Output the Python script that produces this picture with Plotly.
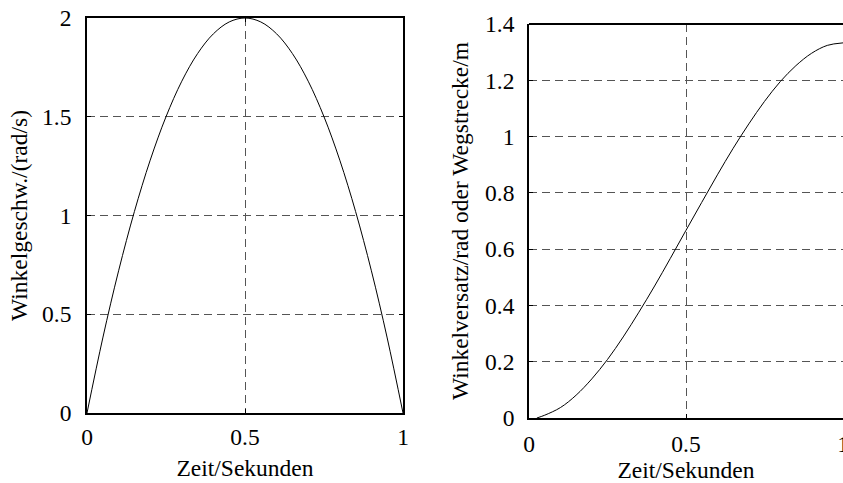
import plotly.graph_objects as go

# Zeitachse und Messwerte (Winkelgeschwindigkeit)
t_speed = [0.00, 0.05, 0.10, 0.15, 0.20, 0.25, 0.30, 0.35, 0.40, 0.45, 0.50,
           0.55, 0.60, 0.65, 0.70, 0.75, 0.80, 0.85, 0.90, 0.95, 1.00]
omega = [0.00, 0.38, 0.72, 1.02, 1.28, 1.50, 1.68, 1.82, 1.92, 1.98, 2.00,
         1.98, 1.92, 1.82, 1.68, 1.50, 1.28, 1.02, 0.72, 0.38, 0.00]

# Zeitachse und Winkelversatz / Wegstrecke
t_angle = [0.025, 0.05, 0.10, 0.15, 0.20, 0.25, 0.30, 0.35, 0.40, 0.45, 0.50,
           0.55, 0.60, 0.65, 0.70, 0.75, 0.80, 0.85, 0.90, 0.95, 1.00]
phi = [0.000, 0.010, 0.037, 0.081, 0.139, 0.208, 0.288, 0.376, 0.469, 0.567, 0.667,
       0.766, 0.864, 0.958, 1.045, 1.125, 1.195, 1.252, 1.296, 1.324, 1.333]

x_ticks = [0, 0.5, 1]
x_labels = ["0", "0.5", "1"]
y1_ticks = [0, 0.5, 1, 1.5, 2]
y1_labels = ["0", "0.5", "1", "1.5", "2"]
y2_ticks = [0, 0.2, 0.4, 0.6, 0.8, 1.0, 1.2, 1.4]
y2_labels = ["0", "0.2", "0.4", "0.6", "0.8", "1", "1.2", "1.4"]

FONT = "Liberation Serif"
FS = 23.5
W, H = 843, 483

fig = go.Figure()
fig.add_trace(go.Scatter(x=t_speed, y=omega, mode="lines", line_shape="spline",
                         line=dict(color="black", width=1), xaxis="x", yaxis="y",
                         showlegend=False))
fig.add_trace(go.Scatter(x=t_angle, y=phi, mode="lines", line_shape="spline",
                         line=dict(color="black", width=1), xaxis="x2", yaxis="y2",
                         showlegend=False))

common = dict(showgrid=True, gridcolor="#555555", gridwidth=1.2, griddash="8px,5px",
              zeroline=False, ticks="inside", ticklen=4, tickwidth=1, tickcolor="black",
              showline=True, linecolor="black", linewidth=1.8, automargin=False,
              ticklabeloverflow="allow",
              tickfont=dict(family=FONT, size=FS, color="black"))

title_font = dict(family=FONT, size=FS, color="black")


def px_x(a, b):
    return [a / W, b / W]


def px_y(top, bottom):
    return [(H - bottom) / H, (H - top) / H]


fig.update_layout(
    width=W, height=H,
    margin=dict(l=0, r=0, t=0, b=0),
    paper_bgcolor="white", plot_bgcolor="white",
    font=dict(family=FONT, size=FS, color="black"),
    xaxis=dict(domain=px_x(87, 403), range=[0, 1], tickvals=x_ticks,
               ticktext=x_labels, mirror="ticks", anchor="y", ticklabelstandoff=2,
               title=dict(text="Zeit/Sekunden", standoff=10, font=title_font), **common),
    yaxis=dict(domain=px_y(18, 413), range=[0, 2], tickvals=y1_ticks,
               ticktext=y1_labels, mirror="ticks", anchor="x", ticklabelstandoff=9,
               title=dict(text="Winkelgeschw./(rad/s)", standoff=8, font=title_font),
               **common),
    xaxis2=dict(domain=px_x(529, 843), range=[0, 1], tickvals=x_ticks,
                ticktext=x_labels, mirror=False, anchor="y2", ticklabelstandoff=4,
                title=dict(text="Zeit/Sekunden", standoff=17, font=title_font), **common),
    yaxis2=dict(domain=px_y(24, 418), range=[0, 1.4], tickvals=y2_ticks,
                ticktext=y2_labels, mirror=False, anchor="x2", ticklabelstandoff=8,
                title=dict(text="Winkelversatz/rad oder Wegstrecke/m", standoff=10,
                           font=title_font), **common),
)

# obere Rahmenlinie des rechten Diagramms
fig.add_shape(type="line", xref="x2 domain", yref="y2 domain", x0=0, x1=1, y0=1, y1=1,
              line=dict(color="black", width=1.8))

fig.write_html("out.html")
